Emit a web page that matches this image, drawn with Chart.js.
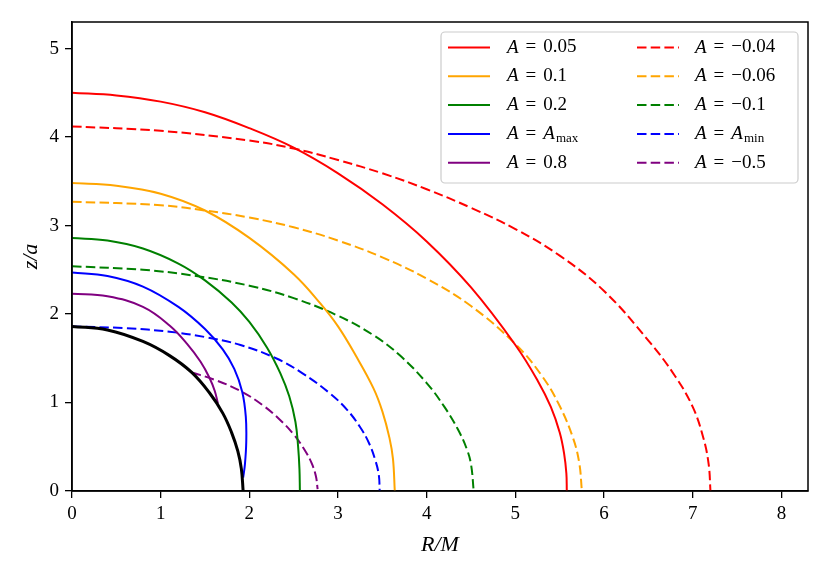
<!DOCTYPE html>
<html>
<head>
<meta charset="utf-8">
<script src="https://cdn.jsdelivr.net/npm/chart.js@4.4.1/dist/chart.umd.min.js"></script>
<style>
    html, body { margin: 0; padding: 0; background: #fff; }
</style>
</head>
<body>
<canvas id="chart" width="830" height="572"></canvas>
<script>
// Curves (R/M, z/a)
const R_p005 = [0, 0.5, 1.0, 1.5, 2.0, 2.5, 3.0, 3.5, 4.0, 4.5, 5.0, 5.25, 5.4, 5.5, 5.55, 5.575, 5.58];
const z_p005 = [4.50, 4.47, 4.40, 4.28, 4.10, 3.88, 3.59, 3.24, 2.82, 2.30, 1.65, 1.25, 0.95, 0.66, 0.42, 0.20, 0];

const R_p01 = [0, 0.5, 1.0, 1.5, 2.0, 2.5, 2.8, 3.0, 3.2, 3.4, 3.5, 3.58, 3.62, 3.64];
const z_p01 = [3.48, 3.45, 3.36, 3.17, 2.86, 2.45, 2.12, 1.86, 1.53, 1.16, 0.90, 0.60, 0.36, 0];

const R_p02 = [0, 0.4, 0.8, 1.2, 1.5, 1.8, 2.0, 2.2, 2.35, 2.45, 2.52, 2.55, 2.565, 2.57];
const z_p02 = [2.86, 2.83, 2.74, 2.57, 2.38, 2.13, 1.91, 1.62, 1.33, 1.07, 0.78, 0.50, 0.25, 0];

const R_max = [0, 0.4, 0.8, 1.2, 1.5, 1.7, 1.83, 1.92, 1.96, 1.965, 1.95, 1.93];
const z_max = [2.47, 2.43, 2.31, 2.08, 1.83, 1.60, 1.38, 1.12, 0.84, 0.55, 0.30, 0.15];

const R_p08 = [0, 0.4, 0.8, 1.1, 1.3, 1.45, 1.55, 1.61, 1.645];
const z_p08 = [2.23, 2.20, 2.08, 1.87, 1.66, 1.46, 1.28, 1.13, 0.99];

const R_m004 = [0, 1.0, 2.0, 2.5, 3.0, 3.5, 4.0, 4.5, 5.0, 5.5, 6.0, 6.5, 6.8, 7.0, 7.12, 7.18, 7.20];
const z_m004 = [4.12, 4.07, 3.96, 3.87, 3.74, 3.59, 3.41, 3.20, 2.96, 2.66, 2.26, 1.70, 1.30, 0.95, 0.60, 0.30, 0];

const R_m006 = [0, 1.0, 1.5, 2.0, 2.5, 3.0, 3.5, 4.0, 4.5, 5.0, 5.3, 5.5, 5.65, 5.72, 5.75];
const z_m006 = [3.27, 3.23, 3.17, 3.09, 2.98, 2.83, 2.64, 2.40, 2.09, 1.66, 1.30, 0.96, 0.60, 0.32, 0];

const R_m01 = [0, 0.8, 1.4, 2.0, 2.5, 3.0, 3.4, 3.7, 4.0, 4.2, 4.35, 4.45, 4.5, 4.53];
const z_m01 = [2.54, 2.50, 2.43, 2.32, 2.18, 1.98, 1.76, 1.53, 1.22, 0.95, 0.70, 0.48, 0.30, 0];

const R_min = [0, 0.6, 1.1, 1.5, 1.9, 2.3, 2.6, 2.9, 3.1, 3.25, 3.35, 3.42, 3.46, 3.47];
const z_min = [1.86, 1.84, 1.80, 1.74, 1.65, 1.50, 1.33, 1.11, 0.92, 0.72, 0.54, 0.35, 0.18, 0];

const R_m05 = [1.35, 1.6, 1.9, 2.15, 2.35, 2.5, 2.62, 2.7, 2.75, 2.77];
const z_m05 = [1.34, 1.26, 1.13, 0.97, 0.80, 0.64, 0.47, 0.32, 0.17, 0.02];

const R_black = [0, 0.4, 0.8, 1.1, 1.35, 1.55, 1.7, 1.8, 1.87, 1.91, 1.93];
const z_black = [1.86, 1.82, 1.69, 1.53, 1.34, 1.11, 0.88, 0.66, 0.45, 0.25, 0];

const xTicks = [0, 1, 2, 3, 4, 5, 6, 7, 8];
const yTicks = [0, 1, 2, 3, 4, 5];

const SERIF = '"Liberation Serif", "DejaVu Serif", serif';
const DASH = [9.5, 4.2];

function curve(R, z, color, dashed, value) {
    return {
        label: value === null ? '' : 'A = ' + value,
        legendValue: value,
        data: R.map((r, i) => ({ x: r, y: z[i] })),
        showLine: true,
        borderColor: color,
        borderWidth: color === '#000000' ? 3 : 2,
        borderDash: dashed ? DASH : [],
        pointRadius: 0,
        tension: 0.4,
        fill: false
    };
}

const datasets = [
    curve(R_black, z_black, '#000000', false, null),
    curve(R_p005, z_p005, '#ff0000', false, '0.05'),
    curve(R_p01, z_p01, '#ffa500', false, '0.1'),
    curve(R_p02, z_p02, '#008000', false, '0.2'),
    curve(R_max, z_max, '#0000ff', false, 'max'),
    curve(R_p08, z_p08, '#800080', false, '0.8'),
    curve(R_m004, z_m004, '#ff0000', true, '\u22120.04'),
    curve(R_m006, z_m006, '#ffa500', true, '\u22120.06'),
    curve(R_m01, z_m01, '#008000', true, '\u22120.1'),
    curve(R_min, z_min, '#0000ff', true, 'min'),
    curve(R_m05, z_m05, '#800080', true, '\u22120.5')
];

// A = value, with A italic and max/min as a subscript
function drawMathLabel(ctx, x, y, value) {
    ctx.fillStyle = '#000';
    ctx.textBaseline = 'middle';
    ctx.textAlign = 'left';
    ctx.font = 'italic 19px ' + SERIF;
    ctx.fillText('A', x, y);
    x += ctx.measureText('A').width + 7;
    ctx.font = '19px ' + SERIF;
    ctx.fillText('=', x, y);
    x += ctx.measureText('=').width + 7;
    if (value === 'max' || value === 'min') {
        ctx.font = 'italic 19px ' + SERIF;
        ctx.fillText('A', x, y);
        x += ctx.measureText('A').width + 1;
        ctx.font = '13px ' + SERIF;
        ctx.fillText(value, x, y + 5);
    } else {
        ctx.fillText(value, x, y);
    }
}

const framePlugin = {
    id: 'frame',
    afterDraw(chart) {
        const ctx = chart.ctx;
        const a = chart.chartArea;
        ctx.save();
        ctx.strokeStyle = '#000';
        ctx.lineWidth = 1.5;
        ctx.strokeRect(a.left, a.top, a.right - a.left, a.bottom - a.top);

        // axis titles
        ctx.fillStyle = '#000';
        ctx.textAlign = 'center';
        ctx.textBaseline = 'middle';
        ctx.font = 'italic 22px ' + SERIF;
        ctx.fillText('R/M', (a.left + a.right) / 2, 545);
        ctx.translate(31, (a.top + a.bottom) / 2);
        ctx.rotate(-Math.PI / 2);
        ctx.fillText('z/a', 0, 0);
        ctx.restore();

        // legend box
        ctx.save();
        const bx = 441, by = 32, bw = 357, bh = 151, r = 4;
        ctx.beginPath();
        ctx.moveTo(bx + r, by);
        ctx.arcTo(bx + bw, by, bx + bw, by + bh, r);
        ctx.arcTo(bx + bw, by + bh, bx, by + bh, r);
        ctx.arcTo(bx, by + bh, bx, by, r);
        ctx.arcTo(bx, by, bx + bw, by, r);
        ctx.closePath();
        ctx.fillStyle = 'rgba(255,255,255,0.8)';
        ctx.fill();
        ctx.strokeStyle = '#cccccc';
        ctx.lineWidth = 1.2;
        ctx.stroke();

        const rows = [0, 0];
        chart.data.datasets.forEach(ds => {
            if (ds.legendValue === null) return;
            const col = ds.borderDash.length ? 1 : 0;
            const row = rows[col]++;
            const y = 47.5 + row * 28.8;
            const x0 = col ? 637 : 448;
            ctx.beginPath();
            ctx.setLineDash(ds.borderDash);
            ctx.strokeStyle = ds.borderColor;
            ctx.lineWidth = 2;
            ctx.moveTo(x0, y);
            ctx.lineTo(x0 + 42, y);
            ctx.stroke();
            ctx.setLineDash([]);
            drawMathLabel(ctx, col ? 695 : 507, y, ds.legendValue);
        });
        ctx.restore();
    }
};

const tickFont = { family: SERIF, size: 19 };

new Chart(document.getElementById('chart'), {
    type: 'scatter',
    data: { datasets: datasets },
    options: {
        responsive: false,
        animation: false,
        layout: { padding: { left: 0, right: 22, top: 22, bottom: 0 } },
        plugins: {
            legend: { display: false },
            tooltip: { enabled: false }
        },
        scales: {
            x: {
                type: 'linear',
                min: 0,
                max: 8.3,
                afterFit: scale => { scale.height = 81; },
                afterBuildTicks: scale => { scale.ticks = xTicks.map(v => ({ value: v })); },
                ticks: { font: tickFont, color: '#000', padding: 5, maxRotation: 0 },
                grid: { drawOnChartArea: false, drawTicks: true, tickLength: 7, color: '#000', lineWidth: 1.3 },
                border: { display: true, color: '#000', width: 1.5 }
            },
            y: {
                type: 'linear',
                min: 0,
                max: 5.3,
                afterFit: scale => { scale.width = 72; },
                afterBuildTicks: scale => { scale.ticks = yTicks.map(v => ({ value: v })); },
                ticks: { font: tickFont, color: '#000', padding: 6 },
                grid: { drawOnChartArea: false, drawTicks: true, tickLength: 7, color: '#000', lineWidth: 1.3 },
                border: { display: true, color: '#000', width: 1.5 }
            }
        }
    },
    plugins: [framePlugin]
});
</script>
</body>
</html>
